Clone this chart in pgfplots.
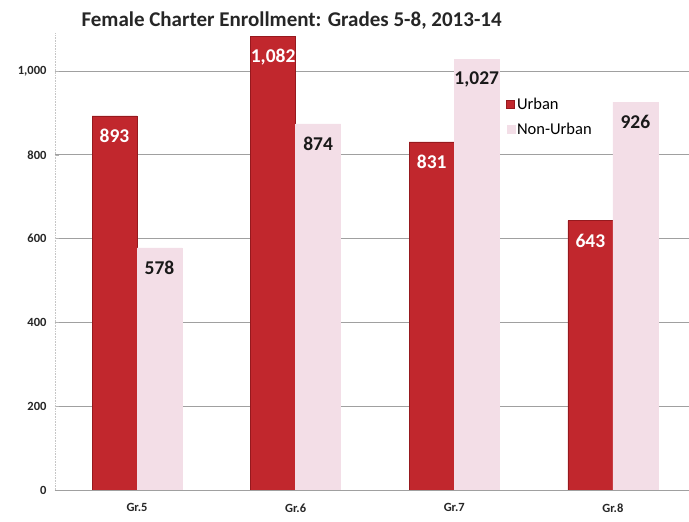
\documentclass[border=0pt]{standalone}
\usepackage{pgfplots}
\pgfplotsset{compat=1.18}
\usepackage{fontspec}
\setmainfont{Carlito}
\definecolor{urban}{RGB}{193,39,45}
\definecolor{urbanedge}{RGB}{150,25,30}
\definecolor{nonurban}{RGB}{243,222,231}
\definecolor{gridc}{RGB}{160,160,160}
\begin{document}
\begin{tikzpicture}
\path[use as bounding box] (-55pt,-32pt) rectangle (634pt,490pt);
\begin{axis}[
  anchor=south west, at={(0pt,0pt)},
  scale only axis, width=634pt, height=456.7pt,
  xmin=-0.517, xmax=3.48, ymin=0, ymax=1090,
  ybar=0pt, bar width=45pt,
  xtick={0,1,2,3}, xticklabels={Gr.5,Gr.6,Gr.7,Gr.8},
  ytick={0,200,400,600,800,1000},
  ymajorgrids, grid style={gridc, line width=0.7pt},
  axis x line*=bottom, axis y line*=left,
  x axis line style={gridc, line width=0.8pt, -},
  y axis line style={gray!45, densely dotted, line width=0.6pt, -},
  xtick style={draw=none},
  ytick style={gray!60, line width=0.5pt},
  major tick length=4pt,
  tick label style={font=\bfseries\fontsize{12.5}{14}\selectfont, text=black!85},
  xticklabel style={yshift=-6pt},
  yticklabel style={xshift=-5pt},
  /pgf/number format/1000 sep={,},
  /pgf/number format/assume math mode=true,
  nodes near coords,
  nodes near coords style={font=\bfseries\fontsize{19.5}{21}\selectfont, anchor=center, yshift=-20pt},
  legend style={at={(0.707,0.867)}, anchor=north west, draw=none, fill=none,
    font=\fontsize{16.5}{19}\selectfont, row sep=8pt},
  legend cell align=left,
  legend image code/.code={\draw[#1] (0pt,-4pt) rectangle (8pt,4pt);},
]
\addplot[fill=urban, draw=urbanedge, line width=0.6pt,
  nodes near coords style={text=white}]
  coordinates {(0,893) (1,1082) (2,831) (3,643)};
\addplot[fill=nonurban, draw=nonurban,
  nodes near coords style={text=black!90}]
  coordinates {(0,578) (1,874) (2,1027) (3,926)};
\legend{Urban, Non-Urban}
\end{axis}
\node[anchor=base west, font=\bfseries\fontsize{21}{24}\selectfont, text=black!85] at (23pt,463pt)
  {Female Charter Enrollment: Grades 5-8, 2013-14};
\end{tikzpicture}
\end{document}
